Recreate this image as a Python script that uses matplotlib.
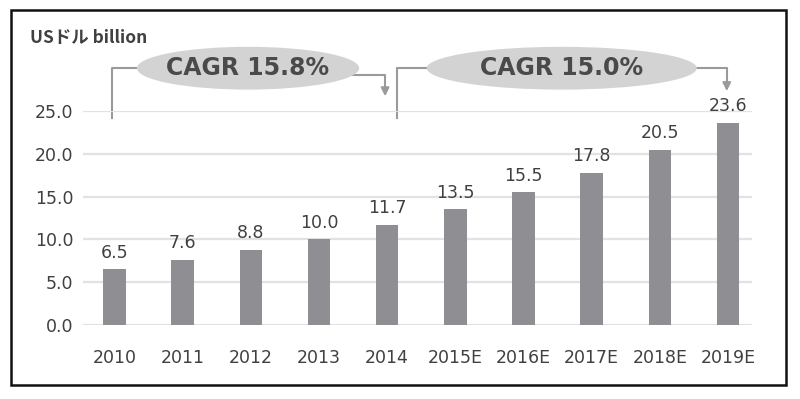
import numpy as np
import matplotlib
matplotlib.use("Agg")
import matplotlib.pyplot as plt
from matplotlib.patches import Ellipse, Rectangle

plt.rcParams['font.family'] = ['DejaVu Sans']

# data
years = ["2010", "2011", "2012", "2013", "2014", "2015E", "2016E", "2017E", "2018E", "2019E"]
values = [6.5, 7.6, 8.8, 10.0, 11.7, 13.5, 15.5, 17.8, 20.5, 23.6]
y_ticks = [0, 5, 10, 15, 20, 25]
cagr_labels = ["CAGR 15.8%", "CAGR 15.0%"]
unit_label = "USドル billion"

bar_col = "#8f8f93"
txt_col = "#404040"
line_col = "#9a9a9a"

fig = plt.figure(figsize=(8, 3.99), dpi=100)
ax = fig.add_axes([0.10375, 0.1855, 0.83625, 0.5363])

x = np.arange(len(years))
ax.bar(x, values, width=0.33, color=bar_col, zorder=2)
for xi, v in zip(x, values):
    ax.text(xi, v + 0.9, f"{v:.1f}", ha="center", va="bottom",
            fontsize=12.5, color=txt_col)

ax.set_xlim(-0.46, 9.35)
ax.set_ylim(0, 25)
ax.set_yticks(y_ticks)
ax.set_yticklabels([f"{t:.1f}" for t in y_ticks])
ax.set_xticks(x)
ax.set_xticklabels(years)
ax.tick_params(length=0, labelsize=12.5, labelcolor=txt_col)
ax.tick_params(axis="x", pad=17)
ax.tick_params(axis="y", pad=7)
ax.grid(axis="y", color="#e2e2e2", linewidth=1.6, zorder=0)
for s in ax.spines.values():
    s.set_visible(False)

# CAGR brackets
def bracket(x0, x1, ytop, yright, yend, ystart, cx, w, label):
    ax.plot([x0, x0, cx], [ystart, ytop, ytop], color=line_col, lw=1.5,
            clip_on=False, zorder=1)
    ax.plot([cx, x1, x1], [yright, yright, yend + 0.9], color=line_col, lw=1.5,
            clip_on=False, zorder=1)
    ax.annotate("", xy=(x1, yend), xytext=(x1, yend + 1.2),
                arrowprops=dict(arrowstyle="-|>", color=line_col, lw=1.5,
                                mutation_scale=12),
                annotation_clip=False)
    ax.add_patch(Ellipse((cx, ytop), w, 5.0, facecolor="#d3d3d3",
                         edgecolor="none", clip_on=False, zorder=3))
    ax.text(cx, ytop, label, ha="center", va="center", fontsize=17,
            fontweight="bold", color="#4a4a4a",
            zorder=4, clip_on=False)

bracket(-0.04, 3.97, 30.0, 29.2, 26.4, 24.2, 1.96, 3.26, cagr_labels[0])
bracket(4.15, 8.98, 30.0, 30.0, 27.0, 24.2, 6.56, 3.96, cagr_labels[1])

# unit label
fig.text(0.0375, 0.905, unit_label, ha="left", va="center", fontsize=12.5,
         fontweight="bold", color=txt_col, family=["Noto Sans CJK JP", "DejaVu Sans"])

# outer frame
fig.patches.append(Rectangle((0.014, 0.035), 0.969, 0.94, transform=fig.transFigure,
                             fill=False, edgecolor="#111111", linewidth=1.8))

fig.savefig("out.png", dpi=100)
